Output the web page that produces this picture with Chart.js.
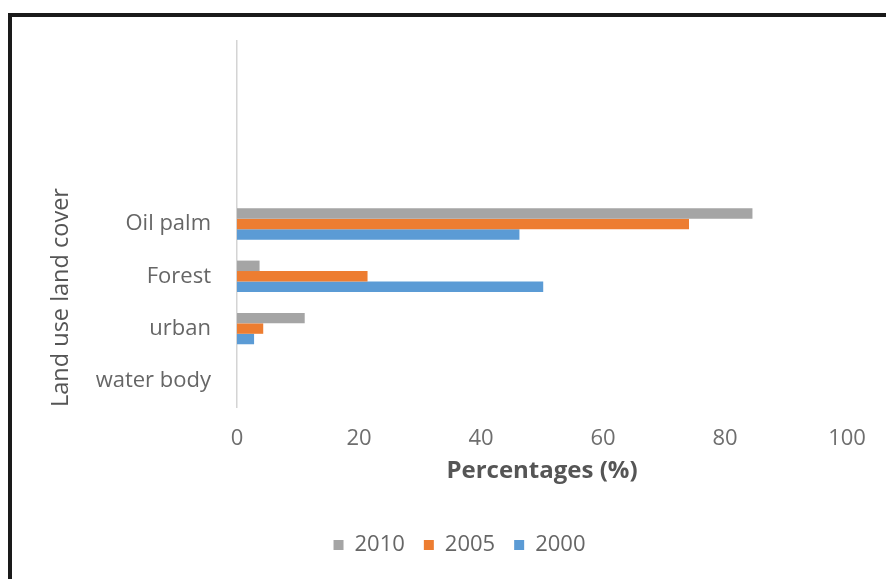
<!DOCTYPE html>
<html>
<head>
<meta charset="utf-8">
<title>Land use land cover</title>
<script src="https://cdn.jsdelivr.net/npm/chart.js@4.4.1/dist/chart.umd.min.js"></script>
<style>
  html, body { margin: 0; padding: 0; background: #fff; overflow: hidden; }
  body { width: 886px; height: 579px; position: relative; }
  #frame {
    position: absolute; left: 8px; top: 13px;
    width: 900px; height: 570px;
    border: 4px solid #1a1a1a;
  }
  #chart { display: block; }
</style>
</head>
<body>
<div id="frame"><canvas id="chart" width="900" height="570"></canvas></div>
<script>
/* ---- data ---- */
// three empty slots on top, like the original sheet
const categories = ["", "", "", "Oil palm", "Forest", "urban", "water body"];
const years = ["2010", "2005", "2000"];
const values2010 = [null, null, null, 84.5, 3.7, 11.1, 0];
const values2005 = [null, null, null, 74.1, 21.4, 4.3, 0];
const values2000 = [null, null, null, 46.3, 50.2, 2.8, 0];
const xTicks = [0, 20, 40, 60, 80, 100];
const colors = ["#a5a5a5", "#ed7d31", "#5b9bd5"];

const FONT = "'Open Sans', 'DejaVu Sans', sans-serif";

const series = [values2010, values2005, values2000];

new Chart(document.getElementById("chart"), {
  type: "bar",
  data: {
    labels: categories,
    datasets: series.map((vals, i) => ({
      label: years[i],
      data: vals,
      backgroundColor: colors[i],
      borderWidth: 0,
      categoryPercentage: 0.6,
      barPercentage: 1
    }))
  },
  options: {
    indexAxis: "y",
    responsive: false,
    animation: false,
    layout: { padding: { left: 60, right: 65, top: 24, bottom: 21 } },
    plugins: {
      tooltip: { enabled: false },
      legend: {
        position: "bottom",
        labels: {
          boxWidth: 10,
          boxHeight: 10,
          padding: 19,
          color: "#666",
          font: { family: FONT, size: 22 }
        }
      }
    },
    scales: {
      x: {
        min: 0,
        max: 100,
        afterBuildTicks: s => { s.ticks = xTicks.map(v => ({ value: v })); },
        afterFit: s => { s.height = 108; },
        grid: { display: false },
        border: { display: false },
        ticks: {
          padding: 11,
          color: "#6e6e6e",
          font: { family: FONT, size: 22 }
        },
        title: {
          display: true,
          text: "Percentages (%)",
          color: "#555",
          padding: { top: 0, bottom: 29 },
          font: { family: FONT, size: 24, weight: "bold" }
        }
      },
      y: {
        afterFit: s => {
          s.width = 165;
          // labels sit inside the category bands, no extra room needed
          s.paddingTop = 0;
          s.paddingBottom = 0;
        },
        grid: { display: false },
        border: { display: true, color: "#d4d4d4", width: 1.5 },
        ticks: {
          autoSkip: false,
          padding: 18,
          color: "#666",
          font: { family: FONT, size: 22 }
        },
        title: {
          display: true,
          text: "Land use land cover",
          align: "start",
          color: "#555",
          padding: { top: -25, bottom: 0 },
          font: { family: FONT, size: 23.5 }
        }
      }
    }
  }
});
</script>
</body>
</html>
